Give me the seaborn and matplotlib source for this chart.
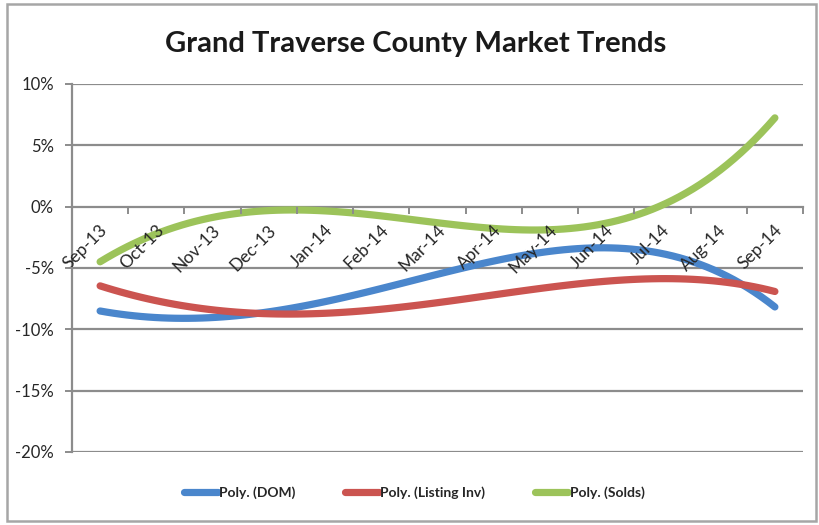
import matplotlib
matplotlib.use("Agg")
import matplotlib.pyplot as plt
from matplotlib.patches import Rectangle
from matplotlib.transforms import ScaledTranslation
import numpy as np
import pandas as pd
import seaborn as sns

months = ["Sep-13", "Oct-13", "Nov-13", "Dec-13", "Jan-14", "Feb-14", "Mar-14",
          "Apr-14", "May-14", "Jun-14", "Jul-14", "Aug-14", "Sep-14"]
dom = [-8.5, -9.0, -9.1, -8.65, -7.7, -6.6, -5.45, -4.4, -3.75, -3.45, -3.9, -5.05, -8.3]
listing_inv = [-6.5, -7.6, -8.35, -8.8, -8.8, -8.3, -7.8, -7.15, -6.6, -6.05, -5.9, -6.1, -6.9]
solds = [-4.5, -2.3, -0.7, -0.3, -0.35, -0.95, -1.35, -1.7, -1.8, -1.3, 0.3, 2.5, 7.4]

series_names = ["Poly. (DOM)", "Poly. (Listing Inv)", "Poly. (Solds)"]
series_colors = ["#4A86CC", "#CB5450", "#9CC35A"]

sns.set_style("white")
plt.rcParams["font.family"] = ["Lato", "DejaVu Sans"]

df = pd.DataFrame({"idx": np.arange(len(months)), "dom": dom,
                   "inv": listing_inv, "solds": solds})

fig = plt.figure(figsize=(8.19, 5.25), dpi=100)
ax = fig.add_axes([72 / 819, 1 - 452 / 525, (803 - 72) / 819, (452 - 84) / 525])
ax.set_axisbelow(False)

grid_c = "#8C8C8C"
for v in [-20, -15, -10, -5, 5, 10]:
    ax.axhline(v, color=grid_c, lw=1.6, zorder=0.5)

# Fourth-order polynomial trend line for each monthly series
for col, name, color in zip(["dom", "inv", "solds"], series_names, series_colors):
    sns.regplot(data=df, x="idx", y=col, order=4, ci=None, scatter=False, ax=ax,
                label=name, line_kws=dict(color=color, lw=5.2, solid_capstyle="round",
                                          zorder=1.5))

ax.set_xlim(-0.5, len(months) - 0.5)
ax.set_ylim(-20, 10)
ax.set_xlabel("")
ax.set_ylabel("")

for s in ["top", "right"]:
    ax.spines[s].set_visible(False)
ax.spines["bottom"].set_position(("data", 0))
ax.spines["bottom"].set_color(grid_c)
ax.spines["bottom"].set_linewidth(1.6)
ax.spines["left"].set_color(grid_c)
ax.spines["left"].set_linewidth(1.6)
for s in ["bottom", "left"]:
    ax.spines[s].set_zorder(0.6)

ax.set_yticks([-20, -15, -10, -5, 0, 5, 10])
ax.set_yticklabels([f"{v}%" for v in [-20, -15, -10, -5, 0, 5, 10]])
ax.tick_params(axis="y", direction="out", length=5, width=1.4, color=grid_c,
               labelsize=12, labelcolor="#262626", pad=8, left=True)

ax.set_xticks(np.arange(len(months)))
ax.set_xticklabels(months, rotation=45, ha="right", va="center",
                   rotation_mode="anchor")
ax.set_xticks(np.arange(len(months) + 1) - 0.5, minor=True)
ax.tick_params(axis="x", which="major", length=0, labelsize=12.5,
               labelcolor="#262626", pad=15)
ax.tick_params(axis="x", which="minor", direction="out", length=5, width=1.4,
               color=grid_c, bottom=True)
shift = ScaledTranslation(5 / 100, 0, fig.dpi_scale_trans)
for lbl in ax.get_xticklabels():
    lbl.set_transform(lbl.get_transform() + shift)

fig.text(0.507, 1 - 44 / 525, "Grand Traverse County Market Trends",
         ha="center", va="center", fontsize=21, fontweight="bold", color="#1A1A1A")

handles, labels = ax.get_legend_handles_labels()
fig.legend(handles, labels, loc="center", bbox_to_anchor=(0.506, 1 - 493 / 525),
           ncol=3, frameon=False, prop=dict(size=10, weight="bold"),
           handlelength=2.4, columnspacing=3.6, handletextpad=0.1)

fig.add_artist(Rectangle((7 / 819, 4 / 525), (816 - 7) / 819, (521 - 4) / 525,
                         transform=fig.transFigure, fill=False,
                         edgecolor="#A6A6A6", lw=1.8))

fig.savefig("out.png", dpi=100)
